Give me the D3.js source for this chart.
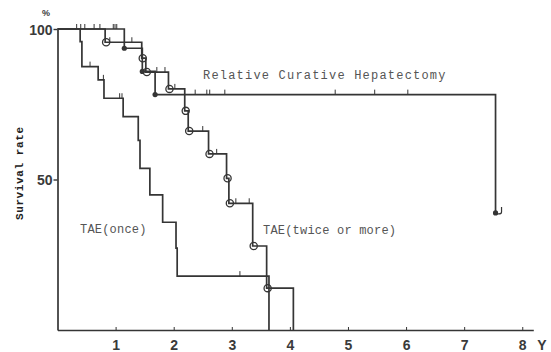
<!DOCTYPE html>
<html>
<head>
<meta charset="utf-8">
<script src="https://cdn.jsdelivr.net/npm/d3@7"></script>
<style>
  body { margin: 0; background: #fff; }
  svg { display: block; }
  .num { font-family: "Liberation Sans Narrow", "Liberation Sans", Arial, sans-serif; font-weight: bold; font-size: 14px; fill: #3a3a3a; }
  .lbl { font-family: "Liberation Mono", "DejaVu Sans Mono", monospace; font-size: 12px; fill: #555; }
</style>
</head>
<body>
<div id="chart"></div>
<script>
// survival curves (time in years, survival in %)
const onceTimes = [0, 0.39, 0.42, 0.70, 0.80, 1.13, 1.39, 1.42, 1.59, 1.81, 2.04, 2.06, 3.64];
const onceSurv  = [100, 95.8, 87.5, 83.1, 77.0, 70.9, 63.0, 53.7, 44.9, 35.8, 27.2, 17.9, 0];
const onceCensor = [0.33, 0.56, 0.79, 1.07, 1.11, 3.14];

const twiceTimes = [0, 0.82, 1.45, 1.52, 1.91, 2.19, 2.25, 2.60, 2.91, 2.95, 3.36, 3.60, 4.06];
const twiceSurv  = [100, 95.6, 90.3, 85.7, 80.1, 72.8, 66.1, 58.5, 50.4, 42.1, 27.9, 13.9, 0];
const twiceCensor = [0.47, 0.63, 0.73, 0.90, 1.28, 1.71, 1.85, 2.02, 2.50, 2.74, 3.07, 3.30];

const curTimes = [0, 1.15, 1.46, 1.68, 7.54];
const curSurv  = [100, 93.6, 85.9, 78.2, 38.9];
const curCensor = [0.40, 0.96, 0.99, 1.02, 2.37, 2.57, 2.62, 2.88, 4.78, 5.46, 6.03];

const xTicks = [1, 2, 3, 4, 5, 6, 7, 8];
const yTicks = [50, 100];

const width = 551, height = 352;
const lineColor = '#353535';

let svg = d3.select('#chart').append('svg').attr('width', width).attr('height', height);

let x = d3.scaleLinear().domain([0, 8.19]).range([57.5, 533.3]);
let y = d3.scaleLinear().domain([0, 100]).range([330, 29]);

// axes
let xAxis = svg.append('g').attr('transform', 'translate(0,' + y(0) + ')')
    .call(d3.axisBottom(x).tickValues(xTicks).tickSizeInner(-3).tickSizeOuter(0).tickPadding(10));
xAxis.select('.domain').attr('stroke', lineColor).attr('stroke-width', 1.7);
xAxis.selectAll('.tick line').attr('stroke', lineColor);
xAxis.selectAll('text').attr('class', 'num').attr('fill', null);

let yAxis = svg.append('g').attr('transform', 'translate(' + x(0) + ',0)')
    .call(d3.axisLeft(y).tickValues(yTicks).tickSizeInner(4).tickSizeOuter(0).tickPadding(1));
yAxis.select('.domain').attr('stroke', lineColor).attr('stroke-width', 1.7);
yAxis.selectAll('.tick line').attr('stroke', lineColor).attr('stroke-width', 1.4);
yAxis.selectAll('text').attr('class', 'num').attr('fill', null).attr('dy', '0.36em');
svg.selectAll('text').attr('font-size', null).attr('font-family', null);

svg.append('text').attr('class', 'num').attr('x', x(8.19) + 4).attr('y', y(0) + 20).text('Y');
svg.append('text').attr('class', 'num').attr('x', 46).attr('y', 16)
    .attr('text-anchor', 'middle').style('font-size', '9px').text('%');

svg.append('text')
    .attr('transform', 'translate(23,220) rotate(-90)')
    .style('font-family', '"Liberation Mono", monospace').style('font-weight', 'bold')
    .style('font-size', '11px').style('letter-spacing', '0.6px').style('fill', '#222')
    .text('Survival rate');

// step curves
function toPoints(times, surv){
    return times.map((t, i)=> [t, surv[i]]);
}
function survAt(times, surv, t){
    let idx = d3.bisectRight(times, t) - 1;
    return surv[Math.max(0, idx)];
}

let step = d3.line().x(d=> x(d[0])).y(d=> y(d[1])).curve(d3.curveStepAfter);

let curves = [
    {times: onceTimes, surv: onceSurv, censor: onceCensor, mark: 'none'},
    {times: twiceTimes, surv: twiceSurv, censor: twiceCensor, mark: 'circle'},
    {times: curTimes, surv: curSurv, censor: curCensor, mark: 'dot'}
];

curves.forEach(c=>{
    svg.append('path').datum(toPoints(c.times, c.surv))
        .attr('d', step).attr('fill', 'none')
        .attr('stroke', lineColor).attr('stroke-width', 1.7);

    // censored cases
    svg.append('g').selectAll('line').data(c.censor).enter().append('line')
        .attr('x1', d=> x(d)).attr('x2', d=> x(d))
        .attr('y1', d=> y(survAt(c.times, c.surv, d)))
        .attr('y2', d=> y(survAt(c.times, c.surv, d)) - 5)
        .attr('stroke', lineColor).attr('stroke-width', 1);

    let events = toPoints(c.times, c.surv).slice(1).filter(d=> d[1] > 0);
    if(c.mark === 'circle'){
        svg.append('g').selectAll('circle').data(events).enter().append('circle')
            .attr('cx', d=> x(d[0]) + 1).attr('cy', d=> y(d[1]))
            .attr('r', 3.6).attr('fill', 'none')
            .attr('stroke', lineColor).attr('stroke-width', 1.3);
    }else if(c.mark === 'dot'){
        svg.append('g').selectAll('circle').data(events).enter().append('circle')
            .attr('cx', d=> x(d[0])).attr('cy', d=> y(d[1]))
            .attr('r', 2.6).attr('fill', lineColor);
    }
});

// last censored case after the final curative death
let last = curTimes[curTimes.length - 1];
let lastS = curSurv[curSurv.length - 1];
svg.append('path')
    .attr('d', 'M' + (x(last) + 6) + ',' + (y(lastS) - 6) + 'v5q0,2 -3,2h-3')
    .attr('fill', 'none').attr('stroke', lineColor).attr('stroke-width', 1.2);

// curve labels
svg.append('text').attr('class', 'lbl').attr('x', 203).attr('y', 78.5)
    .style('letter-spacing', '1.2px').text('Relative Curative Hepatectomy');
svg.append('text').attr('class', 'lbl').attr('x', 80).attr('y', 233)
    .style('letter-spacing', '0.2px').text('TAE(once)');
svg.append('text').attr('class', 'lbl').attr('x', 263).attr('y', 234)
    .style('letter-spacing', '0.2px').text('TAE(twice or more)');
</script>
</body>
</html>
